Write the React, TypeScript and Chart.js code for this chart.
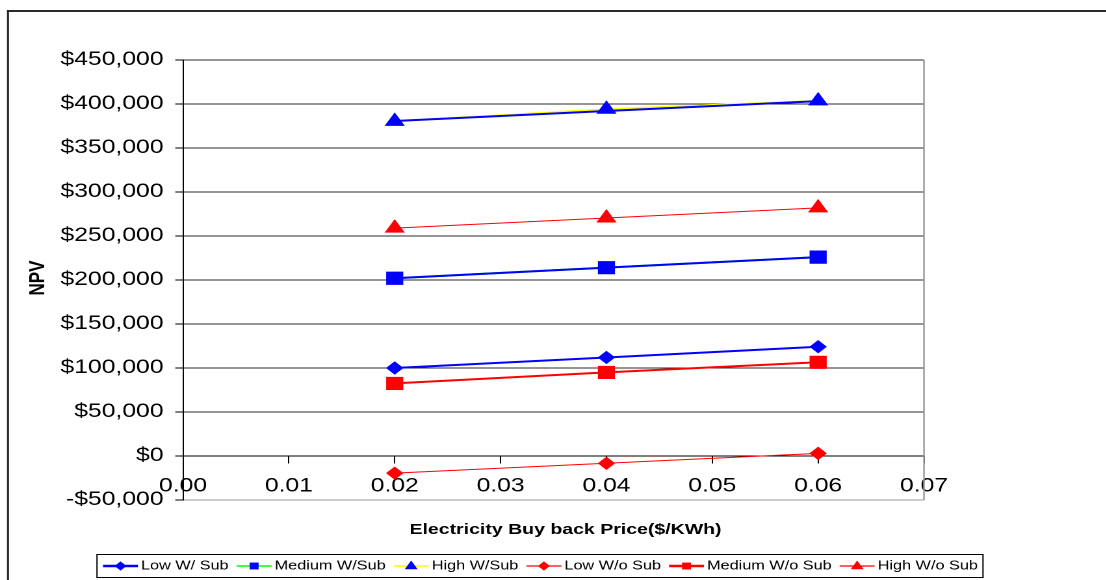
import React, { useEffect, useRef } from 'react';
import { Chart, registerables } from 'chart.js';

Chart.register(...registerables);

// ---------- data ----------
const xValues = [0.02, 0.04, 0.06];
const seriesNames = ['Low W/ Sub', 'Medium W/Sub', 'High W/Sub', 'Low W/o Sub', 'Medium W/o Sub', 'High W/o Sub'];
const lowWSub = [100000, 112000, 124200];
const mediumWSub = [202000, 214000, 226000];
const highWSub = [380300, 394000, 403500];
const mediumWSubTrend = [202000, 214000, 226000];
const highWSubTrend = [380700, 392000, 403300];
const lowWoSub = [-19500, -8300, 3000];
const mediumWoSub = [82500, 95000, 106500];
const highWoSub = [259000, 270500, 282000];
const xTitle = 'Electricity Buy back Price($/KWh)';
const yTitle = 'NPV';
const xMin = 0, xMax = 0.07, xStep = 0.01;
const yMin = -50000, yMax = 450000, yStep = 50000;

// ---------- styling ----------
const S = 1.3; // horizontal stretch of the reference picture
const PAGE_W = 1106;
const PAGE_H = 580;
const CW = Math.round(PAGE_W / S);
const FONT = "'Liberation Sans', Arial, Helvetica, sans-serif";
const BLUE = '#0000ff';
const RED = '#ff0000';
const GREEN = '#00ff00';
const YELLOW = '#ffff00';

const pts = (ys: number[]) => xValues.map((x, i) => ({ x, y: ys[i] }));

function drawMarker(ctx: CanvasRenderingContext2D, style: string, x: number, y: number, r: number, color: string) {
  ctx.beginPath();
  ctx.fillStyle = color;
  if (style === 'rectRot') {
    ctx.moveTo(x - r, y);
    ctx.lineTo(x, y - r);
    ctx.lineTo(x + r, y);
    ctx.lineTo(x, y + r);
  } else if (style === 'rect') {
    const h = r * 0.75;
    ctx.rect(x - h, y - h, 2 * h, 2 * h);
  } else {
    ctx.moveTo(x, y - r);
    ctx.lineTo(x + 0.9 * r, y + 0.6 * r);
    ctx.lineTo(x - 0.9 * r, y + 0.6 * r);
  }
  ctx.closePath();
  ctx.fill();
}

const decor = {
  id: 'decor',
  beforeDraw(chart: any) {
    const ctx: CanvasRenderingContext2D = chart.ctx;
    ctx.save();
    ctx.fillStyle = '#ffffff';
    ctx.fillRect(0, 0, chart.width, chart.height);
    // outer frame (left + top)
    ctx.fillStyle = '#2a2a2a';
    ctx.fillRect(7 / S, 10, 2 / S, chart.height);
    ctx.fillRect(7 / S, 10, chart.width, 2);
    ctx.restore();
  },
  beforeDatasetsDraw(chart: any) {
    const ctx: CanvasRenderingContext2D = chart.ctx;
    const a = chart.chartArea;
    ctx.save();
    ctx.strokeStyle = '#9a9a9a';
    ctx.lineWidth = 1.6 / S;
    ctx.beginPath();
    ctx.moveTo(a.right, a.top);
    ctx.lineTo(a.right, a.bottom);
    ctx.stroke();
    ctx.restore();
  },
  afterDraw(chart: any) {
    const ctx: CanvasRenderingContext2D = chart.ctx;
    ctx.save();
    ctx.fillStyle = '#000';
    // axis titles
    ctx.font = `bold 15px ${FONT}`;
    ctx.textAlign = 'center';
    ctx.textBaseline = 'middle';
    ctx.fillText(xTitle, 565.5 / S, 530);
    ctx.save();
    ctx.translate(38 / S, 278);
    ctx.rotate(-Math.PI / 2);
    ctx.font = `bold 17px ${FONT}`;
    ctx.fillText(yTitle, 0, 0);
    ctx.restore();

    // legend box
    const bx0 = 97 / S, bx1 = 983 / S, by0 = 554, by1 = 577;
    ctx.strokeStyle = '#000';
    ctx.lineWidth = 1;
    ctx.strokeRect(bx0, by0 + 0.5, bx1 - bx0, by1 - by0);
    const cy = (by0 + by1) / 2 + 0.5;
    ctx.font = `12.5px ${FONT}`;
    ctx.textAlign = 'left';
    ctx.textBaseline = 'middle';
    let x = 103 / S;
    const lineLen = 35 / S;
    chart.data.datasets.forEach((ds: any) => {
      if (!ds.inLegend) return;
      ctx.strokeStyle = ds.legendLine;
      ctx.lineWidth = ds.legendLineWidth;
      ctx.beginPath();
      ctx.moveTo(x, cy);
      ctx.lineTo(x + lineLen, cy);
      ctx.stroke();
      drawMarker(ctx, ds.pointStyle, x + lineLen / 2, cy, ds.pointStyle === 'triangle' ? 5.5 : 4.6, ds.pointBackgroundColor);
      x += lineLen + 3 / S;
      ctx.fillStyle = '#000';
      ctx.fillText(ds.label, x, cy);
      x += ctx.measureText(ds.label).width + 8 / S;
    });
    ctx.restore();
  },
};

export default function App() {
  const ref = useRef<HTMLCanvasElement>(null);

  useEffect(() => {
    const tickFont = { family: FONT, size: 19 };
    const base = { tension: 0, pointBorderWidth: 1, inLegend: true };
    const chart = new Chart(ref.current as HTMLCanvasElement, {
      type: 'line',
      data: {
        datasets: [
          {
            ...base, label: seriesNames[0], data: pts(lowWSub), borderColor: BLUE, borderWidth: 2,
            pointStyle: 'rectRot', pointRadius: 6, pointBackgroundColor: BLUE, pointBorderColor: BLUE,
            legendLine: BLUE, legendLineWidth: 2.5, order: 1,
          },
          {
            ...base, label: seriesNames[1], data: pts(mediumWSub), borderColor: GREEN, borderWidth: 2,
            pointStyle: 'rect', pointRadius: 8.6, pointBackgroundColor: BLUE, pointBorderColor: BLUE,
            legendLine: GREEN, legendLineWidth: 1.5, order: 2,
          },
          {
            ...base, label: seriesNames[2], data: pts(highWSub), borderColor: YELLOW, borderWidth: 2,
            pointStyle: 'triangle', pointRadius: 8, pointBackgroundColor: BLUE, pointBorderColor: BLUE,
            legendLine: YELLOW, legendLineWidth: 1.5, order: 3,
          },
          {
            ...base, label: seriesNames[3], data: pts(lowWoSub), borderColor: RED, borderWidth: 1,
            pointStyle: 'rectRot', pointRadius: 6, pointBackgroundColor: RED, pointBorderColor: RED,
            legendLine: RED, legendLineWidth: 1.2, order: 4,
          },
          {
            ...base, label: seriesNames[4], data: pts(mediumWoSub), borderColor: RED, borderWidth: 2,
            pointStyle: 'rect', pointRadius: 8.6, pointBackgroundColor: RED, pointBorderColor: RED,
            legendLine: RED, legendLineWidth: 2.5, order: 5,
          },
          {
            ...base, label: seriesNames[5], data: pts(highWoSub), borderColor: RED, borderWidth: 1,
            pointStyle: 'triangle', pointRadius: 8, pointBackgroundColor: RED, pointBorderColor: RED,
            legendLine: RED, legendLineWidth: 1.2, order: 6,
          },
          {
            label: 'Medium W/Sub trend', data: pts(mediumWSubTrend), borderColor: BLUE, borderWidth: 2,
            pointRadius: 0, tension: 0, inLegend: false, order: 0,
          },
          {
            label: 'High W/Sub trend', data: pts(highWSubTrend), borderColor: BLUE, borderWidth: 2,
            pointRadius: 0, tension: 0, inLegend: false, order: 0,
          },
        ] as any,
      },
      options: {
        animation: false,
        responsive: false,
        devicePixelRatio: 2,
        layout: { padding: { top: 60, left: 0, bottom: 80, right: CW - 924 / S } },
        plugins: { legend: { display: false }, tooltip: { enabled: false }, title: { display: false } },
        scales: {
          x: {
            type: 'linear',
            position: { y: 0 } as any,
            min: xMin,
            max: xMax,
            ticks: {
              stepSize: xStep,
              autoSkip: false,
              maxRotation: 0,
              padding: 12,
              color: '#000',
              font: tickFont,
              callback: (v: any) => Number(v).toFixed(2),
            },
            grid: { drawOnChartArea: false, drawTicks: true, tickLength: 7, color: '#000', tickColor: '#000' },
            border: { color: '#000', width: 1 },
          },
          y: {
            type: 'linear',
            position: 'left',
            min: yMin,
            max: yMax,
            ticks: {
              stepSize: yStep,
              autoSkip: false,
              padding: 9,
              color: '#000',
              font: tickFont,
              callback: (v: any) => {
                const n = Number(v);
                return (n < 0 ? '-$' : '$') + Math.abs(n).toLocaleString('en-US');
              },
            },
            grid: {
              color: (c: any) => (c.tick && c.tick.value === yMin ? '#9a9a9a' : '#2a2a2a'),
              tickColor: '#000',
              tickLength: 6,
              lineWidth: 1,
            },
            border: { color: '#000', width: 1 },
            afterFit: (s: any) => { s.width = 183 / S; },
          },
        },
      },
      plugins: [decor],
    } as any);
    return () => chart.destroy();
  }, []);

  return (
    <div style={{ position: 'fixed', left: 0, top: 0, width: PAGE_W, height: PAGE_H, overflow: 'hidden', background: '#fff' }}>
      <div style={{ position: 'absolute', left: 0, top: 0, width: CW, height: PAGE_H, transform: `scaleX(${S})`, transformOrigin: '0 0' }}>
        <canvas ref={ref} width={CW} height={PAGE_H} style={{ display: 'block' }} />
      </div>
    </div>
  );
}
